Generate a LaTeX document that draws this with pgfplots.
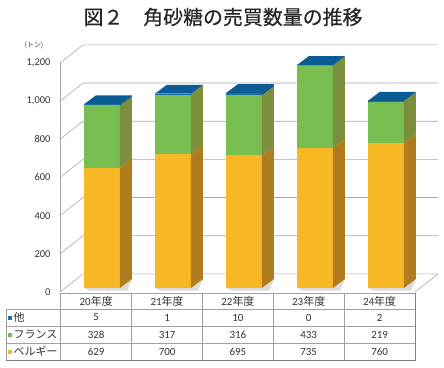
\documentclass[border=0pt]{standalone}
\usepackage{pgfplots}
\pgfplotsset{compat=1.18}
\usepackage{fontspec}
\setmainfont{Carlito}
\newfontfamily\jp{Noto Sans CJK JP}
\newfontfamily\jpt{Noto Sans CJK JP}[FakeBold=0.5]
\definecolor{orF}{HTML}{F8B826}
\definecolor{orS}{HTML}{B07C1E}
\definecolor{grF}{HTML}{78BE50}
\definecolor{grS}{HTML}{7B8F3C}
\definecolor{blF}{HTML}{1C6FA8}
\definecolor{blS}{HTML}{0E4E78}
\definecolor{blT}{HTML}{0B5C95}
\definecolor{gridc}{HTML}{A8A8A8}
\definecolor{tabc}{HTML}{A0A0A0}
\newcommand\bx{0.09}
\newcommand\bw{0.254}
\newcommand\ddx{0.169}
\newcommand\ddy{47}
\newcommand\yb{21}
\newcommand\drawbar[4]{%
 \pgfmathsetmacro\xl{#1+\bx-\bw}%
 \pgfmathsetmacro\xr{#1+\bx+\bw}%
 \pgfmathsetmacro\xlb{\xl+\ddx}%
 \pgfmathsetmacro\xrb{\xr+\ddx}%
 \pgfmathsetmacro\ya{\yb}%
 \pgfmathsetmacro\yo{\yb+#2}%
 \pgfmathsetmacro\yg{\yo+#3}%
 \pgfmathsetmacro\yt{\yg+#4}%
 \pgfmathsetmacro\yab{\ya+\ddy}%
 \pgfmathsetmacro\yob{\yo+\ddy}%
 \pgfmathsetmacro\ygb{\yg+\ddy}%
 \pgfmathsetmacro\ytb{\yt+\ddy}%
 \pgfmathsetmacro\shx{\xr+0.10}%
 \pgfmathsetmacro\shy{\ya-14}%
 \pgfmathsetmacro\shxa{\xl+0.08}%
 \edef\tmp{%
  \noexpand\addplot[draw=none,fill=black!14] coordinates {(\shxa,\shy) (\shx,\shy) (\xrb,\yab) (\xr,\ya) (\xl,\ya)};
  \noexpand\addplot[draw=none,fill=orF] coordinates {(\xl,\ya) (\xr,\ya) (\xr,\yo) (\xl,\yo)};
  \noexpand\addplot[draw=none,fill=orS] coordinates {(\xr,\ya) (\xrb,\yab) (\xrb,\yob) (\xr,\yo)};
  \noexpand\addplot[draw=none,fill=grF] coordinates {(\xl,\yo) (\xr,\yo) (\xr,\yg) (\xl,\yg)};
  \noexpand\addplot[draw=none,fill=grS] coordinates {(\xr,\yo) (\xrb,\yob) (\xrb,\ygb) (\xr,\yg)};
  \noexpand\addplot[draw=none,fill=blF] coordinates {(\xl,\yg) (\xr,\yg) (\xr,\yt) (\xl,\yt)};
  \noexpand\addplot[draw=none,fill=blS] coordinates {(\xr,\yg) (\xrb,\ygb) (\xrb,\ytb) (\xr,\yt)};
  \noexpand\addplot[draw=none,fill=blT] coordinates {(\xl,\yt) (\xr,\yt) (\xrb,\ytb) (\xlb,\ytb)};
 }\tmp}
\begin{document}
\begin{tikzpicture}[x=1bp,y=1bp]
\useasboundingbox (0,0) rectangle (444,367);
\node[font=\jpt\fontsize{20}{20}\selectfont, text=black!85] at (223,350) {図２　角砂糖の売買数量の推移};
\node[font=\jp\fontsize{7}{7}\selectfont, text=black!75] at (34,322) {(トン)};
\begin{axis}[at={(60bp,75bp)}, anchor=south west, scale only axis,
  width=355bp, height=229bp, xmin=-0.5, xmax=4.5, ymin=0, ymax=1200,
  clip=false, axis line style={draw=none}, major tick length=0pt,
  xtick=\empty, ytick={0,200,400,600,800,1000,1200},
  /pgf/number format/assume math mode=true,
  /pgf/number format/1000 sep={,},
  yticklabel style={font=\fontsize{10.5}{11}\selectfont, text=black!80, anchor=east, xshift=-6bp}]
% walls and floor
\addplot[gridc, line width=0.6pt] coordinates {(-0.5,0) (-0.5,1200)};
\addplot[gridc, line width=0.6pt] coordinates {(4.5,0) (4.824,95)};
\addplot[gridc, line width=0.6pt] coordinates {(-0.5,0) (-0.176,95) (4.824,95)};
\addplot[gridc, line width=0.6pt] coordinates {(-0.5,200) (-0.176,295) (4.824,295)};
\addplot[gridc, line width=0.6pt] coordinates {(-0.5,400) (-0.176,495) (4.824,495)};
\addplot[gridc, line width=0.6pt] coordinates {(-0.5,600) (-0.176,695) (4.824,695)};
\addplot[gridc, line width=0.6pt] coordinates {(-0.5,800) (-0.176,895) (4.824,895)};
\addplot[gridc, line width=0.6pt] coordinates {(-0.5,1000) (-0.176,1095) (4.824,1095)};
\addplot[gridc, line width=0.6pt] coordinates {(-0.5,1200) (-0.176,1295) (4.824,1295)};
% bars: index, ベルギー, フランス, 他
\drawbar{0}{629}{328}{5}
\drawbar{1}{700}{317}{1}
\drawbar{2}{695}{316}{10}
\drawbar{3}{735}{433}{0}
\drawbar{4}{760}{219}{2}
\end{axis}
% data table
\begin{scope}[tabc, line width=0.6pt]
\draw (60.7,74) -- (415,74);
\draw (6,58) -- (415,58);
\draw (6,41) -- (415,41);
\draw (6,24) -- (415,24);
\draw (6,58) -- (6,7);
\foreach \x in {60.7,131.7,202.5,273.3,344.2} \draw (\x,74) -- (\x,7);
\draw[black!50] (6,7) -- (415,7) -- (415,74);
\end{scope}
\begin{scope}[font=\fontsize{11}{11}\selectfont, text=black!80]
\foreach \x/\l in {96.2/20,167.1/21,237.9/22,308.7/23,379.6/24}
  \node at (\x,66) {\l{\jp 年度}};
\foreach \x/\v in {96.2/5,167.1/1,237.9/10,308.7/0,379.6/2}
  \node at (\x,49.5) {\v};
\foreach \x/\v in {96.2/328,167.1/317,237.9/316,308.7/433,379.6/219}
  \node at (\x,32.5) {\v};
\foreach \x/\v in {96.2/629,167.1/700,237.9/695,308.7/735,379.6/760}
  \node at (\x,15.5) {\v};
\fill[blF] (7.5,47) rectangle (12,51.5);
\fill[grF] (7.5,30) rectangle (12,34.5);
\fill[orF] (7.5,13) rectangle (12,17.5);
\node[anchor=west, font=\jp\fontsize{11}{11}\selectfont, inner sep=0] at (13.5,49.5) {他};
\node[anchor=west, font=\jp\fontsize{11}{11}\selectfont, inner sep=0] at (13.5,32.5) {フランス};
\node[anchor=west, font=\jp\fontsize{11}{11}\selectfont, inner sep=0] at (13.5,15.5) {ベルギー};
\end{scope}
\end{tikzpicture}
\end{document}
